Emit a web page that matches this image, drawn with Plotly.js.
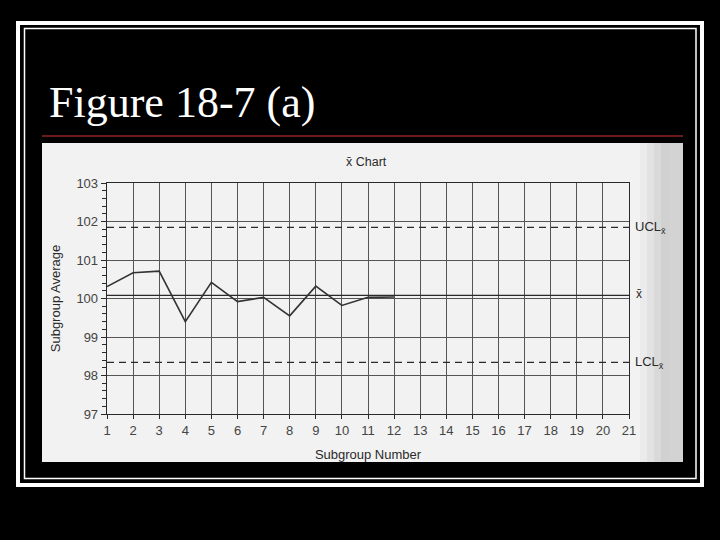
<!DOCTYPE html>
<html>
<head>
<meta charset="utf-8">
<script src="https://cdn.plot.ly/plotly-3.0.1.min.js"></script>
<style>
  html, body { margin: 0; padding: 0; background: #000; }
  #chart { width: 720px; height: 540px; }
</style>
</head>
<body>
<div id="chart"></div>
<script>
// ---- data ----
const subgroups = [1, 2, 3, 4, 5, 6, 7, 8, 9, 10, 11, 12];
const averages = [100.31, 100.67, 100.71, 99.40, 100.42, 99.92, 100.03, 99.55, 100.32, 99.82, 100.03, 100.04];
const xTickVals = [1,2,3,4,5,6,7,8,9,10,11,12,13,14,15,16,17,18,19,20,21];
const yTickVals = [97, 98, 99, 100, 101, 102, 103];
const limitX = [1, 21];
const uclValue = 101.85;
const centerValue = 100.08;
const lclValue = 98.34;

// ---- layout geometry (pixels of the 720x540 page) ----
const L = 107, R = 629, T = 183, B = 414;
const W = R - L, H = B - T;
const px = v => (v - L) / W;
const py = v => (B - v) / H;

const ink = '#2a2a2a';
const sans = 'Liberation Sans, Arial, sans-serif';

const traces = [
  { x: limitX, y: [uclValue, uclValue], mode: 'lines', line: { color: ink, width: 1.3, dash: '7px,5px' }, hoverinfo: 'skip', showlegend: false },
  { x: limitX, y: [centerValue, centerValue], mode: 'lines', line: { color: ink, width: 1.3 }, hoverinfo: 'skip', showlegend: false },
  { x: limitX, y: [lclValue, lclValue], mode: 'lines', line: { color: ink, width: 1.3, dash: '7px,5px' }, hoverinfo: 'skip', showlegend: false },
  { x: subgroups, y: averages, mode: 'lines', line: { color: '#333', width: 1.6 }, showlegend: false }
];

// scanned-page shading toward the right edge
const shadeStops = [[640, 647, '#ebebeb'], [647, 654, '#e2e2e2'], [654, 661, '#d9d9d9'], [661, 669, '#d1d1d1'], [669, 683, '#d3d3d3']];

const shapes = [
  { type: 'rect', xref: 'paper', yref: 'paper', x0: px(42), x1: px(683), y0: py(143), y1: py(462), fillcolor: '#f2f2f2', line: { width: 0 }, layer: 'below' }
];
shadeStops.forEach(s => shapes.push({ type: 'rect', xref: 'paper', yref: 'paper', x0: px(s[0]), x1: px(s[1]), y0: py(143), y1: py(462), fillcolor: s[2], line: { width: 0 }, layer: 'below' }));
shapes.push(
  { type: 'line', xref: 'paper', yref: 'paper', x0: px(42), x1: px(683), y0: py(136), y1: py(136), line: { color: '#6a1c1c', width: 2 } },
  { type: 'rect', xref: 'paper', yref: 'paper', x0: px(18), x1: px(702), y0: py(23), y1: py(485), line: { color: '#ffffff', width: 4 } },
  { type: 'rect', xref: 'paper', yref: 'paper', x0: px(24.5), x1: px(696), y0: py(28.5), y1: py(478.5), line: { color: '#ffffff', width: 1.5 } }
);

const annotations = [
  { xref: 'paper', yref: 'paper', x: px(366), y: py(162), text: 'x\u0304 Chart', showarrow: false, font: { family: sans, size: 12.5, color: ink }, xanchor: 'center', yanchor: 'middle' },
  { xref: 'paper', yref: 'y', x: px(633), y: uclValue, text: 'UCL<sub>x\u0304</sub>', showarrow: false, font: { family: sans, size: 13, color: ink }, xanchor: 'left', yanchor: 'middle' },
  { xref: 'paper', yref: 'y', x: px(634), y: centerValue + 0.05, text: 'x\u0304', showarrow: false, font: { family: sans, size: 12, color: ink }, xanchor: 'left', yanchor: 'middle' },
  { xref: 'paper', yref: 'y', x: px(633), y: lclValue, text: 'LCL<sub>x\u0304</sub>', showarrow: false, font: { family: sans, size: 13, color: ink }, xanchor: 'left', yanchor: 'middle' }
];

const layout = {
  width: 720, height: 540,
  margin: { l: L, r: 720 - R, t: T, b: 540 - B, pad: 0 },
  paper_bgcolor: '#000000',
  plot_bgcolor: 'rgba(0,0,0,0)',
  title: {
    text: 'Figure 18-7 (a)',
    x: 49 / 720, xanchor: 'left', xref: 'container',
    y: 1 - 102 / 540, yanchor: 'middle', yref: 'container',
    font: { family: 'Liberation Serif, Times New Roman, serif', size: 44, color: '#ffffff' }
  },
  xaxis: {
    range: [1, 21], tickvals: xTickVals, showgrid: true, gridcolor: '#555', gridwidth: 1,
    zeroline: false, showline: true, mirror: true, linecolor: ink, linewidth: 1.3,
    ticks: 'outside', ticklen: 4, tickcolor: ink,
    tickfont: { family: sans, size: 13, color: '#444' },
    title: { text: 'Subgroup Number', standoff: 13, font: { family: sans, size: 13, color: ink } },
    automargin: false, fixedrange: true
  },
  yaxis: {
    range: [97, 103], tickvals: yTickVals, showgrid: true, gridcolor: '#555', gridwidth: 1,
    zeroline: false, showline: true, mirror: true, linecolor: ink, linewidth: 1.3,
    ticks: 'outside', ticklen: 5, tickcolor: ink,
    minor: { dtick: 0.2, ticks: 'outside', ticklen: 4, tickcolor: ink, showgrid: false },
    tickfont: { family: sans, size: 13, color: '#444' },
    title: { text: 'Subgroup Average', standoff: 12, font: { family: sans, size: 13, color: ink } },
    automargin: false, fixedrange: true
  },
  shapes: shapes,
  annotations: annotations,
  showlegend: false
};

Plotly.newPlot('chart', traces, layout, { staticPlot: true, displayModeBar: false });
</script>
</body>
</html>
